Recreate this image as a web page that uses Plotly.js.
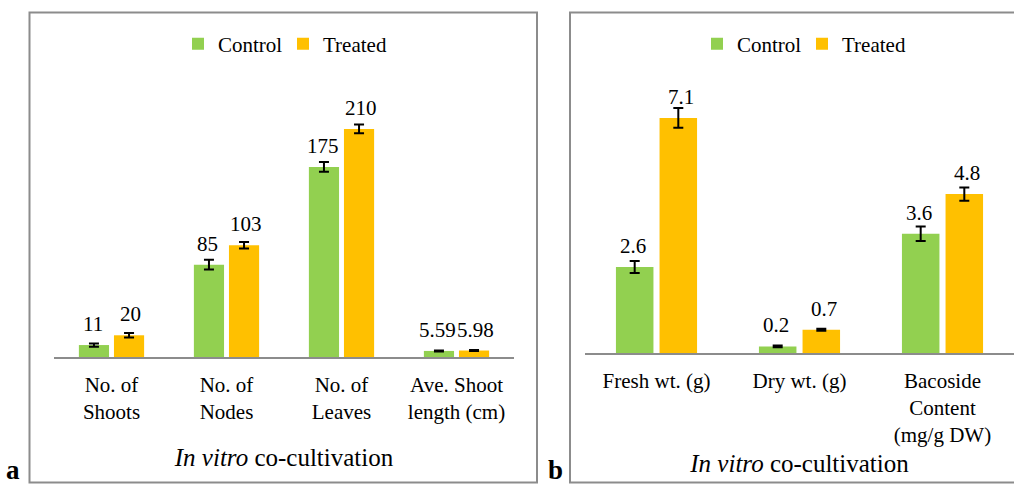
<!DOCTYPE html>
<html>
<head>
<meta charset="utf-8">
<script src="https://cdn.plot.ly/plotly-3.0.1.min.js"></script>
<style>html,body{margin:0;padding:0;background:#fff;}#chart{width:1014px;height:484px;}</style>
</head>
<body>
<div id="chart"></div>
<script>
// Panel a
const catsA = ["No. of<br>Shoots", "No. of<br>Nodes", "No. of<br>Leaves", "Ave. Shoot<br>length (cm)"];
const controlA = [11, 85, 175, 5.59];
const treatedA = [20, 103, 210, 5.98];
const controlAErr = [1.5, 4.5, 4.5, 0.5];
const treatedAErr = [2, 3, 4, 0.5];
// Panel b
const catsB = ["Fresh wt. (g)", "Dry wt. (g)", "Bacoside<br>Content<br>(mg/g DW)"];
const controlB = [2.6, 0.2, 3.6];
const treatedB = [7.1, 0.7, 4.8];
const controlBErr = [0.18, 0.03, 0.22];
const treatedBErr = [0.3, 0.03, 0.2];

const seriesNames = ["Control", "Treated"];
const GREEN = "#92D050", ORANGE = "#FFC000";
const FONT = "'Liberation Serif', 'DejaVu Serif', serif";
const W = 1014, H = 484;
const px = v => v / W;
const py = v => 1 - v / H;

function bar(name, cats, vals, errs, color, xa, ya, leg) {
  return {
    type: "bar", name: name, x: cats, y: vals,
    xaxis: xa, yaxis: ya, legend: leg,
    marker: {color: color, line: {width: 0}},
    error_y: {type: "data", array: errs, visible: true, color: "#000", thickness: 2, width: 5},
    hoverinfo: "skip"
  };
}

const data = [
  bar(seriesNames[0], catsA, controlA, controlAErr, GREEN, "x", "y", "legend"),
  bar(seriesNames[1], catsA, treatedA, treatedAErr, ORANGE, "x", "y", "legend"),
  bar(seriesNames[0], catsB, controlB, controlBErr, GREEN, "x2", "y2", "legend2"),
  bar(seriesNames[1], catsB, treatedB, treatedBErr, ORANGE, "x2", "y2", "legend2")
];

const annotations = [];
function labels(cats, vals, xref, yref, shift) {
  cats.forEach((c, i) => {
    annotations.push({
      x: c, y: vals[i], xref: xref, yref: yref, text: String(vals[i]),
      showarrow: false, xshift: shift, yshift: 21, yanchor: "middle",
      font: {family: FONT, size: 21, color: "#000"}
    });
  });
}
labels(catsA, controlA, "x", "y", -19);
labels(catsA, treatedA, "x", "y", 19);
labels(catsB, controlB, "x2", "y2", -24);
labels(catsB, treatedB, "x2", "y2", 24);

annotations.push({x: px(13), y: 0, xref: "paper", yref: "paper", text: "<b>a</b>", showarrow: false,
  xanchor: "center", yanchor: "bottom", yshift: -3, font: {family: FONT, size: 27, color: "#000"}});
annotations.push({x: px(555), y: 0, xref: "paper", yref: "paper", text: "<b>b</b>", showarrow: false,
  xanchor: "center", yanchor: "bottom", yshift: -3, font: {family: FONT, size: 27, color: "#000"}});

const xCommon = {
  type: "category", showline: true, linecolor: "#8c8c8c", linewidth: 1.5,
  ticks: "", showgrid: false, zeroline: false, ticklabelstandoff: 8,
  tickfont: {family: FONT, size: 21, color: "#000"},
  title: {text: "<i>In vitro</i> co-cultivation", font: {family: FONT, size: 25, color: "#000"}, standoff: 25}
};
const yCommon = {showline: false, showgrid: false, zeroline: false, showticklabels: false, ticks: ""};

const legendCommon = {orientation: "h", xanchor: "left", yanchor: "middle", entrywidth: 60, entrywidthmode: "pixels",
  bgcolor: "rgba(0,0,0,0)", font: {family: FONT, size: 21, color: "#000"}};

const layout = {
  width: W, height: H,
  margin: {l: 0, r: 0, t: 0, b: 0},
  paper_bgcolor: "#fff", plot_bgcolor: "rgba(0,0,0,0)",
  font: {family: FONT, color: "#000"},
  barmode: "group", bargap: 0.39, bargroupgap: 0.14,
  xaxis: Object.assign({}, xCommon, {domain: [px(54), px(514)], anchor: "y", range: [-0.5, 3.5]}),
  yaxis: Object.assign({}, yCommon, {domain: [py(357), py(60)], anchor: "x", range: [0, 273.5]}),
  xaxis2: Object.assign({}, xCommon, {domain: [px(585), 1], anchor: "y2", range: [-0.5, 2.5],
    title: Object.assign({}, xCommon.title, {standoff: 8})}),
  yaxis2: Object.assign({}, yCommon, {domain: [py(353), py(60)], anchor: "x2", range: [0, 8.85]}),
  legend: Object.assign({}, legendCommon, {x: px(178), y: py(44)}),
  legend2: Object.assign({}, legendCommon, {x: px(697), y: py(44)}),
  shapes: [
    {type: "rect", xref: "paper", yref: "paper", x0: px(29.5), x1: px(537), y0: py(482.5), y1: py(12.5),
      line: {color: "#8c8c8c", width: 2}, fillcolor: "rgba(0,0,0,0)", layer: "below"},
    {type: "rect", xref: "paper", yref: "paper", x0: px(570), x1: px(1020), y0: py(482.5), y1: py(12.5),
      line: {color: "#8c8c8c", width: 2}, fillcolor: "rgba(0,0,0,0)", layer: "below"}
  ],
  annotations: annotations,
  showlegend: true
};

Plotly.newPlot("chart", data, layout, {staticPlot: true, displayModeBar: false});
</script>
</body>
</html>
